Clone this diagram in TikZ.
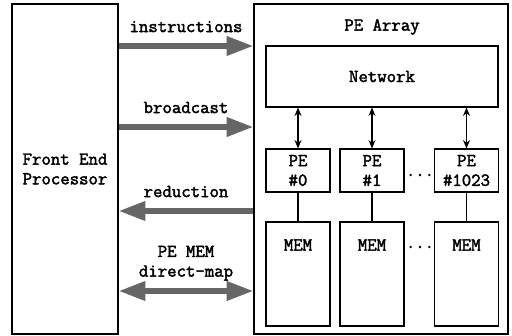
\documentclass[tikz,border=0pt]{standalone}
\usepackage{fontspec}
\setmonofont{Latin Modern Mono}[FakeBold=2.2,BoldFont={Latin Modern Mono}]
\usetikzlibrary{arrows.meta}

\tikzset{
  box/.style={draw, line width=0.8pt, inner sep=0pt},
  fatarrow/.style={line width=4pt, draw=black!60, -{Triangle[length=19pt,width=13pt]}},
  fatboth/.style={line width=4pt, draw=black!60, {Triangle[length=19pt,width=13pt]}-{Triangle[length=19pt,width=13pt]}},
  link/.style={line width=0.8pt, {Stealth[length=6pt,width=5pt]}-{Stealth[length=6pt,width=5pt]}},
  wire/.style={line width=0.8pt},
}

\begin{document}
\begin{tikzpicture}[font=\ttfamily\bfseries\fontsize{13}{14}\selectfont]
    \useasboundingbox (0,0) rectangle (12.8,8.375);

    % front end and the array
    \node[box, minimum width=2.65cm, minimum height=8.25cm, align=center] (fep) at (1.625,4.15) {Front End\\Processor};
    \node[box, minimum width=6.35cm, minimum height=8.25cm] (pea) at (9.525,4.15) {};
    \node (title) at (9.55,7.7) {PE Array};
    \node[box, minimum width=5.8cm, minimum height=1.525cm] (net) at (9.55,6.4625) {Network};

    % processing elements
    \node[box, minimum width=1.6cm, minimum height=1.075cm, align=center] (pe0) at (7.45,4.1125) {PE\\\#0};
    \node[box, minimum width=1.6cm, minimum height=1.075cm, align=center] (pe1) at (9.3,4.1125) {PE\\\#1};
    \node[box, minimum width=1.6cm, minimum height=1.075cm, align=center] (pen) at (11.6625,4.1125) {PE\\\#1023};
    \node (pedots) at (10.5,4.0) {...};

    % memories
    \node[box, minimum width=1.6cm, minimum height=2.6cm] (mem0) at (7.45,1.525) {};
    \node[box, minimum width=1.6cm, minimum height=2.6cm] (mem1) at (9.3,1.525) {};
    \node[box, minimum width=1.6cm, minimum height=2.6cm] (memn) at (11.6625,1.525) {};
    \node at (mem0.north |- 0,2.25) {MEM};
    \node at (mem1.north |- 0,2.25) {MEM};
    \node at (memn.north |- 0,2.25) {MEM};
    \node (memdots) at (10.5,2.2) {...};

    \draw[link] (net.south -| pe0) -- (pe0.north);
    \draw[link] (net.south -| pe1) -- (pe1.north);
    \draw[link] (net.south -| pen) -- (pen.north);
    \draw[wire] (pe0.south) -- (mem0.north);
    \draw[wire] (pe1.south) -- (mem1.north);
    \draw[wire] (pen.south) -- (memn.north);

    % traffic between front end and array
    \coordinate (yinstr) at (0,7.225);
    \coordinate (ybcast) at (0,5.2);
    \coordinate (yred) at (0,3.1);
    \coordinate (ymap) at (0,1.1);
    \draw[fatarrow] (fep.east |- yinstr) -- (pea.west |- yinstr) node[midway, above=4.5pt, black] {instructions};
    \draw[fatarrow] (fep.east |- ybcast) -- (pea.west |- ybcast) node[midway, above=4.5pt, black] {broadcast};
    \draw[fatarrow] (pea.west |- yred) -- (fep.east |- yred) node[midway, above=4.5pt, black] {reduction};
    \draw[fatboth] (fep.east |- ymap) -- (pea.west |- ymap) node[midway, above=2pt, black, align=center] {PE MEM\\direct-map};
\end{tikzpicture}
\end{document}
